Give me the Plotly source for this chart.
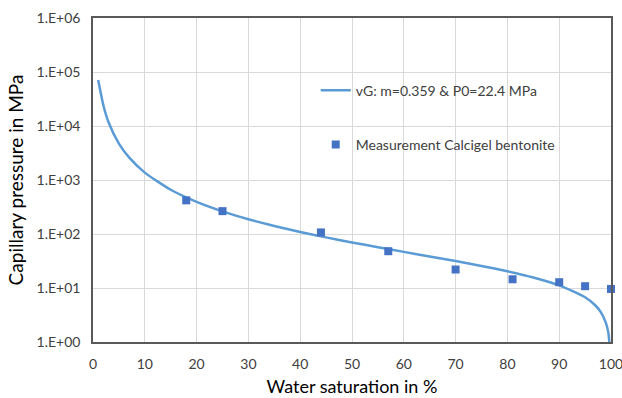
import plotly.graph_objects as go

# vG curve
curve_x = [1, 2, 3, 5, 7, 10, 15, 20, 25, 30, 35, 40, 45, 50, 55, 60, 65, 70,
           75, 80, 85, 90, 95, 97, 98, 99, 99.5, 99.9]
curve_y = [71000, 24200, 11700, 4710, 2590, 1370, 660, 394, 263, 188, 141, 109,
           86.6, 69.8, 56.9, 46.7, 38.4, 31.5, 25.6, 20.4, 15.7, 11.2, 6.74,
           4.74, 3.61, 2.29, 1.46, 0.52]

# Measurements
meas_x = [18, 25, 44, 57, 70, 81, 90, 95, 100]
meas_y = [420, 265, 107, 48, 22, 14.5, 12.8, 10.8, 9.6]

y_tickvals = [1, 10, 100, 1000, 10000, 100000, 1000000]
y_ticktext = ["1.E+00", "1.E+01", "1.E+02", "1.E+03", "1.E+04", "1.E+05", "1.E+06"]
x_tickvals = [0, 10, 20, 30, 40, 50, 60, 70, 80, 90, 100]

font_family = "Lato, Open Sans, sans-serif"

fig = go.Figure()
fig.add_trace(go.Scatter(
    x=curve_x, y=curve_y, mode="lines", name="vG: m=0.359 & P0=22.4 MPa",
    line=dict(color="#5B9BD5", width=2.5, shape="spline", smoothing=0.6),
    legendgroup="a",
))
fig.add_trace(go.Scatter(
    x=meas_x, y=meas_y, mode="markers", name="Measurement Calcigel bentonite",
    marker=dict(symbol="square", color="#4472C4", size=8),
    legendgroup="b", cliponaxis=False,
))

fig.update_layout(
    width=622, height=398,
    margin=dict(l=93, r=11, t=18, b=56),
    paper_bgcolor="white", plot_bgcolor="white",
    font=dict(family=font_family, color="#404040", size=14),
    showlegend=True,
    legend=dict(
        x=0.43, y=0.825, xanchor="left", yanchor="top",
        bgcolor="rgba(255,255,255,0)", borderwidth=0,
        font=dict(size=14, color="#404040"),
        traceorder="grouped", tracegroupgap=33,
        itemwidth=30,
    ),
    xaxis=dict(
        range=[0, 100], tickvals=x_tickvals,
        showgrid=True, gridcolor="#D9D9D9", gridwidth=1,
        showline=True, linecolor="#595959", linewidth=1.5, mirror=True,
        ticks="", zeroline=False, automargin=False,
        ticklabelstandoff=8, ticklabeloverflow="allow",
        title=dict(text="Water saturation in %", font=dict(size=18, color="#000000"), standoff=10),
        tickfont=dict(size=14, color="#404040"),
    ),
    yaxis=dict(
        type="log", range=[0, 6], tickvals=y_tickvals, ticktext=y_ticktext,
        showgrid=True, gridcolor="#D9D9D9", gridwidth=1,
        showline=True, linecolor="#595959", linewidth=1.5, mirror=True,
        ticks="", zeroline=False, automargin=False,
        ticklabelstandoff=8, ticklabeloverflow="allow",
        title=dict(text="Capillary pressure in MPa", font=dict(size=19, color="#000000"), standoff=8),
        tickfont=dict(size=14, color="#404040"),
    ),
)

fig.write_html("out.html")
